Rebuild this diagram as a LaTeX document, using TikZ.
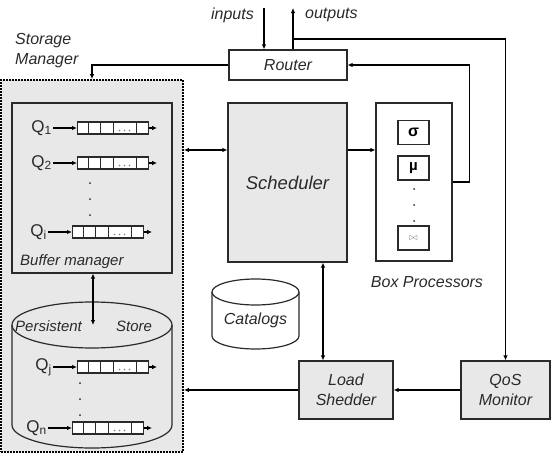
\documentclass[tikz,border=0pt]{standalone}
\usepackage{fontspec}
\setmainfont{Liberation Sans}
\usetikzlibrary{arrows.meta,calc}
\definecolor{boxgray}{HTML}{E8E8E8}
\definecolor{linec}{HTML}{2A2A2A}
\tikzset{
 lbl/.style={font=\fontsize{16}{20}\selectfont\itshape, inner sep=0pt, text=linec},
 blk/.style={draw=linec, line width=1.2pt, inner sep=0pt},
 tip/.tip={Latex[length=5pt,width=4.5pt]},
 arr/.style={-tip, line width=1.3pt, draw=black},
 darr/.style={tip-tip, line width=1.3pt, draw=black},
 qbox/.style={draw=linec, line width=1.1pt, fill=white, minimum width=71pt, minimum height=12pt, inner sep=0pt},
 qlab/.style={font=\fontsize{17}{18}\selectfont, inner sep=1pt, text=linec},
 dotn/.style={circle, fill=linec, inner sep=0pt, minimum size=2pt},
 qdot/.style={circle, fill=gray, inner sep=0pt, minimum size=1.8pt},
 opbox/.style={draw=linec, line width=1.2pt, fill=white, minimum width=31pt, minimum height=24pt, inner sep=0pt},
}
\newcommand\qrow[5]{%
 \node[qbox, anchor=west] (#1) at (#2,#3) {};
 \foreach \dd in {11,23,36,59} \draw[linec, line width=1pt] ($(#1.north west)+(\dd,0)$) -- ($(#1.south west)+(\dd,0)$);
 \foreach \dd in {42.5,47.5,52.5} \node[qdot] at ($(#1.west)+(\dd,2.5)$) {};
 \node[qlab, anchor=east] (#1l) at (#5,#3) {#4};
 \draw[arr] (#1l) -- (#1);
 \coordinate (#1o) at ($(#1.east)+(8,0)$);
 \draw[arr] (#1) -- (#1o);
}
\begin{document}
\begin{tikzpicture}[x=1pt,y=-1pt]
\useasboundingbox (0,0) rectangle (555,455);
% storage manager
\node[draw=black, line width=1.8pt, dash pattern=on 2pt off 1pt, fill=boxgray, minimum width=182pt, minimum height=372pt, inner sep=0pt] (sm) at (92,266) {};
\node[blk, fill=boxgray, minimum width=160pt, minimum height=170pt] (bm) at (92,188) {};
\node[lbl, anchor=north west, align=left] (sml) at (15,33) {Storage\\Manager};
\node[lbl, anchor=west, font=\fontsize{15}{18}\selectfont\itshape] (bml) at (20,262) {Buffer manager};
% queues in buffer
\qrow{q1}{77}{128}{Q\textsubscript{1}}{53}
\qrow{q2}{77}{163}{Q\textsubscript{2}}{53}
\qrow{qi}{72}{232}{Q\textsubscript{i}}{48}
\foreach \yy in {183,199,215} \node[dotn] at (90,\yy) {};
% persistent store cylinder
\draw[linec, line width=1.2pt] (12,325) -- (12,425) arc[start angle=180, end angle=0, x radius=80, y radius=23] -- (172,325);
\draw[linec, line width=1.2pt] (92,325) ellipse [x radius=80, y radius=23];
\coordinate (pstop) at (93,325);
\node[lbl, anchor=west, font=\fontsize{15}{18}\selectfont\itshape] (psl) at (15,326) {Persistent};
\node[lbl, anchor=west, font=\fontsize{15}{18}\selectfont\itshape] (stl) at (116,326) {Store};
\qrow{qj}{77}{367}{Q\textsubscript{j}}{53}
\qrow{qn}{72}{428}{Q\textsubscript{n}}{48}
\foreach \yy in {383,399,415} \node[dotn] at (80,\yy) {};
% router, scheduler, processors
\node[blk, fill=white, minimum width=118pt, minimum height=30pt, lbl] (router) at (288,65) {Router};
\node[blk, fill=boxgray, minimum width=119pt, minimum height=159pt, lbl, font=\fontsize{18.5}{20}\selectfont\itshape] (sched) at (287.5,182.5) {Scheduler};
\node[blk, fill=white, minimum width=76pt, minimum height=158pt] (bp) at (414,182) {};
\node[opbox, font=\fontsize{16}{16}\selectfont\bfseries] (sig) at (413.5,132.5) {σ};
\node[opbox, font=\fontsize{15}{15}\selectfont\bfseries] (mu) at (413.5,168) {µ};
\node[opbox, text=gray] (bow) at (413.5,238) {$\bowtie$};
\foreach \yy in {189,205,221} \node[dotn] at (414,\yy) {};
\node[lbl] (bpl) at (427,282) {Box Processors};
% catalogs
\draw[linec, line width=1.2pt, fill=white] (212,292) -- (212,336) arc[start angle=180, end angle=0, x radius=43.5, y radius=13] -- (299,292);
\draw[linec, line width=1.2pt, fill=white] (255.5,292) ellipse [x radius=43.5, y radius=13];
\node[lbl] (cat) at (255.5,320) {Catalogs};
% load shedder, qos
\node[blk, fill=boxgray, minimum width=94pt, minimum height=58pt, lbl, align=center] (ls) at (346,390) {Load\\Shedder};
\node[blk, fill=boxgray, minimum width=89pt, minimum height=58pt, lbl, align=center] (qos) at (505.5,390) {QoS\\Monitor};
% io labels
\node[lbl, anchor=east] (inl) at (254,15) {inputs};
\node[lbl, anchor=west] (outl) at (305,15) {outputs};
% coordinates
\coordinate (yA) at (0,150);
\coordinate (xS) at (323,0);
\coordinate (xB) at (93,0);
\coordinate (xR) at (92,0);
\coordinate (inTop) at (264,8);
\coordinate (outTop) at (293,8);
\coordinate (tap) at (293,39);
% connectors
\draw[arr] (inTop) -- (inTop |- router.north);
\draw[arr] (router.north -| outTop) -- (outTop);
\draw[arr] (tap) -| (qos.north);
\draw[arr] (router.west) -| (sm.north -| xR);
\draw[arr] (bp.east) -- ++(17,0) |- (router.east);
\draw[darr] (sm.east |- yA) -- (sched.west |- yA);
\draw[arr] (sched.east |- yA) -- (bp.west |- yA);
\draw[darr] (sched.south -| xS) -- (ls.north -| xS);
\draw[arr] (qos.west) -- (ls.east);
\draw[arr] (ls.west) -- (sm.east |- ls.west);
\draw[darr] (bm.south -| xB) -- (pstop);
\end{tikzpicture}
\end{document}
